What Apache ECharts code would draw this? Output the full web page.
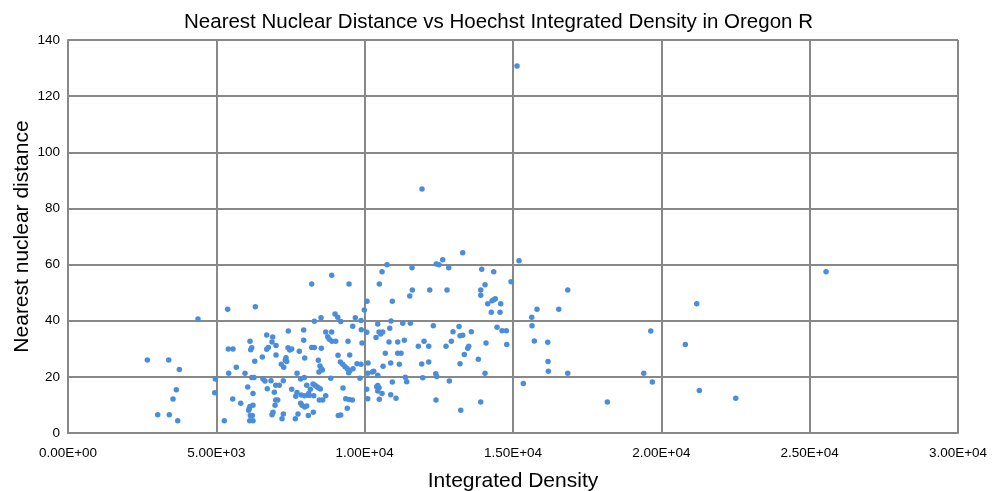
<!DOCTYPE html>
<html>
<head>
    <meta charset="UTF-8">
    <title>Nearest Nuclear Distance vs Hoechst Integrated Density</title>
    <script src="https://cdn.jsdelivr.net/npm/echarts@6/dist/echarts.min.js"></script>
    <style>
        html, body { margin: 0; padding: 0; background: #fff; }
        #chartContainer { width: 997px; height: 491px; }
    </style>
</head>
<body>
<div id="chartContainer"></div>
<script>
    // integrated density (x) and nearest nuclear distance (y)
    var densities = [
        8215, 9473, 5383, 6314, 4382, 10079, 9988, 9001, 9092, 9193, 8529, 8303, 9685, 9877, 9597, 7426,
        7945, 8687, 8889, 10069, 6698, 6900, 6135, 6877, 7012, 7945, 8755, 8809, 8899, 9024, 9439, 9911,
        8215, 8303, 8539, 7416, 7474, 7541, 7797, 6752, 6698, 6193, 6159, 5404, 5562, 7012, 6550, 6294,
        7349, 7325, 7372, 7979, 9102, 9496, 2673, 3395, 3752, 5673, 5417, 5967, 8438, 8495, 8539, 8461,
        8573, 7190, 7271, 7720, 9179, 9260, 9338, 9415, 9496, 9462, 9607, 9742, 9877, 10113, 10103, 6193,
        6270, 4966, 6573, 6641, 6843, 7258, 7844, 7966, 8856, 9843, 3651, 3540, 4945, 6058, 6236, 6718,
        7002, 7123, 6954, 7541, 8047, 8168, 8259, 8326, 8394, 8451, 8505, 7720, 7676, 7865, 7979, 8114,
        8124, 8283, 8471, 8586, 8687, 9270, 9361, 9473, 9584, 10069, 10103, 5552, 5822, 6112, 6091, 6135,
        6236, 6145, 6213, 6125, 6236, 7002, 7069, 6978, 6911, 6877, 7258, 7214, 7662, 7753, 7844, 7888,
        7979, 8047, 8101, 8269, 9415, 9112, 9193, 3024, 3415, 3698, 5269, 8889,
        13305, 15203, 12631, 12415, 12506, 10753, 11596, 12833, 10585, 13946, 14350, 10494, 14934, 14057,
        11606, 12193, 12776, 13912, 13912, 11519, 10932, 14148, 14293, 14350, 14404, 14586, 14269, 14563,
        9887, 10440, 10888, 11283, 11539, 12314, 10484, 10541, 10608, 10383, 10845, 10821, 11114, 11337,
        11809, 12001, 12159, 12742, 12921, 12978, 13181, 13214, 13305, 13595, 13474, 13508, 13359, 14091,
        14462, 14630, 14775, 14789, 15631, 15810, 15641, 15719, 16171, 10258, 10304, 10440, 10619, 10878,
        11168, 10696, 11114, 11225, 11923, 12159, 12395, 12429, 11371, 11418, 11957, 10932, 12854, 13214,
        13831, 14057, 10440, 10406, 10484, 10440, 10585, 10878, 11057, 10494, 12405, 13912, 13238, 16191,
        16181, 15348, 16845, 16542, 16845, 18180, 19407, 19643, 19697, 21193, 20809, 21281, 22508,
        15136, 11933, 25552
    ];
    var distances = [
        53.1, 53.1, 44.1, 45.0, 40.6, 46.9, 43.8, 42.4, 41.2, 39.7, 41.1, 39.8, 41.1, 40.1, 38.0, 36.3,
        36.7, 36.0, 36.0, 35.9, 34.9, 34.2, 32.7, 32.4, 31.2, 33.0, 34.3, 33.4, 32.7, 32.7, 32.7, 32.1,
        30.5, 30.5, 30.2, 30.4, 29.6, 29.9, 29.1, 30.5, 29.8, 30.4, 29.7, 29.9, 29.9, 27.8, 27.1, 25.6,
        26.8, 26.0, 25.5, 26.7, 27.7, 27.8, 26.0, 26.0, 22.6, 23.4, 21.3, 21.3, 25.9, 23.9, 22.9, 21.7,
        22.4, 24.5, 23.4, 21.3, 25.3, 24.5, 23.6, 22.9, 22.2, 21.5, 22.9, 24.7, 24.5, 24.9, 21.3, 19.8,
        19.8, 19.2, 19.2, 18.5, 18.6, 18.6, 19.2, 19.8, 19.5, 19.5, 15.4, 12.1, 14.3, 16.4, 14.1, 15.8,
        17.0, 17.0, 14.5, 15.6, 17.0, 15.6, 17.5, 17.0, 16.5, 16.0, 15.7, 14.4, 13.1, 13.5, 13.3, 14.1,
        13.4, 13.3, 11.8, 11.8, 13.3, 16.0, 12.2, 11.9, 11.8, 15.6, 12.2, 12.1, 10.6, 8.7, 8.1, 9.4,
        9.9, 6.2, 6.2, 4.4, 4.4, 11.8, 11.8, 9.9, 7.4, 6.5, 6.8, 5.1, 5.1, 6.8, 10.6, 9.9,
        9.3, 9.6, 6.2, 7.4, 8.8, 6.2, 6.4, 6.5, 6.5, 4.4, 4.4, 56.2,
        64.2, 61.4, 61.7, 60.2, 59.9, 59.9, 58.9, 58.9, 57.4, 58.3, 57.4, 53.1, 53.9, 52.8,
        50.9, 50.9, 50.9, 50.9, 49.1, 48.8, 46.9, 46.0, 47.1, 47.5, 47.8, 46.0, 43.0, 43.0,
        36.8, 38.8, 39.9, 39.1, 39.1, 38.2, 36.0, 35.3, 36.0, 34.0, 37.3, 32.4, 32.4, 33.0,
        30.9, 32.7, 30.9, 30.9, 32.7, 36.1, 37.9, 34.6, 34.8, 36.1, 30.2, 30.9, 28.0, 32.1,
        37.7, 36.4, 36.4, 31.5, 41.2, 44.1, 38.2, 32.8, 32.3, 21.7, 22.0, 20.6, 23.8, 24.9,
        24.5, 28.4, 28.4, 28.4, 24.6, 25.3, 21.1, 20.1, 19.9, 18.3, 19.7, 18.2, 18.5, 24.7,
        26.3, 21.3, 16.9, 16.5, 16.1, 15.0, 14.1, 13.6, 12.4, 12.0, 11.8, 11.0, 8.1, 22.0,
        25.5, 17.6, 50.9, 44.1, 21.3, 11.0, 21.3, 36.3, 18.2, 46.0, 31.5, 15.1, 12.4,
        130.7, 86.9, 57.4
    ];
    var xTickLabels = ['0.00E+00', '5.00E+03', '1.00E+04', '1.50E+04', '2.00E+04', '2.50E+04', '3.00E+04'];
    var yTicks = [0, 20, 40, 60, 80, 100, 120, 140];

    var points = [];
    for (var i = 0; i < densities.length; i++) {
        points.push([densities[i], distances[i]]);
    }

    var myChart = echarts.init(document.getElementById('chartContainer'));
    var font = '"Liberation Sans", Arial, sans-serif';
    var option = {
        animation: false,
        title: {
            text: 'Nearest Nuclear Distance vs Hoechst Integrated Density in Oregon R',
            left: 'center',
            top: 7,
            textStyle: { fontFamily: font, fontSize: 20.5, fontWeight: 'normal', color: '#000' }
        },
        grid: { left: 68, right: 39, top: 40, bottom: 58, containLabel: false, outerBoundsMode: 'none' },
        xAxis: {
            type: 'value',
            min: 0,
            max: 30000,
            interval: 5000,
            name: 'Integrated Density',
            nameLocation: 'middle',
            nameGap: 38,
            nameTextStyle: { fontFamily: font, fontSize: 21, color: '#000' },
            axisLine: { show: true, lineStyle: { color: '#888', width: 2 } },
            axisTick: { show: false },
            axisLabel: {
                fontFamily: font, fontSize: 13.5, color: '#000', margin: 13,
                formatter: function (v) { return xTickLabels[Math.round(v / 5000)]; }
            },
            splitLine: { show: true, lineStyle: { color: '#888', width: 2 } }
        },
        yAxis: {
            type: 'value',
            min: yTicks[0],
            max: yTicks[yTicks.length - 1],
            interval: 20,
            name: 'Nearest nuclear distance',
            nameLocation: 'middle',
            nameGap: 35,
            nameMoveOverlap: false,
            nameTextStyle: { fontFamily: font, fontSize: 21, color: '#000' },
            axisLine: { show: true, lineStyle: { color: '#888', width: 2 } },
            axisTick: { show: false },
            axisLabel: { fontFamily: font, fontSize: 13.5, color: '#000', margin: 8 },
            splitLine: { show: true, lineStyle: { color: '#888', width: 2 } }
        },
        series: [{
            type: 'scatter',
            data: points,
            symbol: 'circle',
            symbolSize: 5.5,
            itemStyle: { color: '#4a8edb', opacity: 1 }
        }]
    };
    myChart.setOption(option);
</script>
</body>
</html>
